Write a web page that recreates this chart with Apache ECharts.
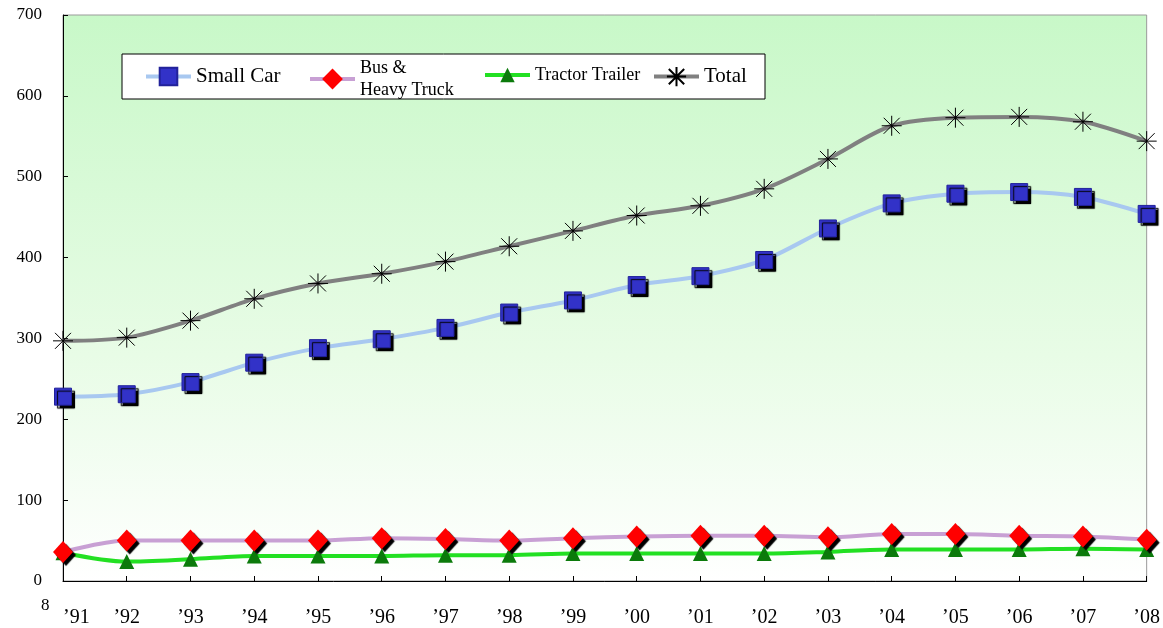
<!DOCTYPE html>
<html>
<head>
<meta charset="utf-8">
<script src="https://cdn.jsdelivr.net/npm/echarts@6/dist/echarts.min.js"></script>
<style>html,body{margin:0;padding:0;background:#fff;}#c{width:1163px;height:628px;}</style>
</head>
<body>
<div id="c"></div>
<script>
const years = ["’91","’92","’93","’94","’95","’96","’97","’98","’99","’00","’01","’02","’03","’04","’05","’06","’07","’08"];
const smallCar = [228, 231, 246, 270, 288, 299, 313, 332, 347, 366, 377, 397, 436, 467, 479, 481, 475, 454];
const busTruck = [36, 50, 50, 50, 50, 53, 52, 50, 53, 55, 56, 56, 54, 58, 58, 56, 55, 51];
const tractor = [35, 24, 27, 31, 31, 31, 32, 32, 34, 34, 34, 34, 36, 39, 39, 39, 40, 39];
const total = [297, 301, 322, 349, 368, 380, 395, 414, 433, 452, 464, 485, 522, 563, 573, 574, 568, 544];
const yTicks = [0, 100, 200, 300, 400, 500, 600, 700];

const serif = "'Liberation Serif', 'Times New Roman', serif";
const starPath = 'path://M10,0L10,20M0,10L20,10M2,2L18,18M18,2L2,18';
const shadow = {shadowColor: 'rgba(0,0,0,1)', shadowBlur: 1, shadowOffsetX: 3, shadowOffsetY: 3};

const chart = echarts.init(document.getElementById('c'), null, {renderer: 'canvas'});
function leg(name, left, top, fontSize, itemHeight, extra) {
  return Object.assign({
    data: [name], left: left, top: top, padding: 0, itemWidth: 45, itemHeight: itemHeight,
    selectedMode: false,
    lineStyle: {width: 4},
    textStyle: {fontFamily: serif, fontSize: fontSize, color: '#000'}
  }, extra || {});
}
chart.setOption({
  animation: false,
  backgroundColor: '#fff',
  grid: {
    left: 63, right: 12, top: 15, bottom: 46, show: true,
    borderColor: '#9a9a9a', borderWidth: 1,
    backgroundColor: {type: 'linear', x: 0, y: 0, x2: 0, y2: 1,
      colorStops: [{offset: 0, color: '#c8f8c8'}, {offset: 0.6, color: '#e8fce6'}, {offset: 1, color: '#ffffff'}]}
  },
  graphic: [
    {type: 'rect', shape: {x: 122, y: 54, width: 643, height: 45}, style: {fill: '#fff', stroke: '#000', lineWidth: 1}, z: 1},
    {type: 'text', left: 41, top: 597, style: {text: '8', font: '17px ' + serif, fill: '#000'}}
  ],
  legend: [
    leg('Small Car', 144, 66, 21, 22),
    leg('Bus & Heavy Truck', 308, 57, 18, 26, {formatter: function(){return 'Bus &\nHeavy Truck';}, textStyle: {fontFamily: serif, fontSize: 18, color: '#000', lineHeight: 22}}),
    leg('Tractor Trailer', 483, 66, 18, 18),
    leg('Total', 652, 66, 21, 24)
  ],
  xAxis: {
    type: 'category', data: years, boundaryGap: false,
    axisLine: {lineStyle: {color: '#000', width: 1}},
    axisTick: {inside: true, length: 5, lineStyle: {color: '#000'}},
    axisLabel: {fontFamily: serif, fontSize: 20, color: '#000', margin: 27, alignMinLabel: 'left'}
  },
  yAxis: {
    type: 'value', min: 0, max: 700, interval: 100,
    axisLine: {show: true, lineStyle: {color: '#000', width: 1}},
    axisTick: {show: true, inside: true, length: 5, lineStyle: {color: '#000'}},
    splitLine: {show: false},
    axisLabel: {fontFamily: serif, fontSize: 17, color: '#000', margin: 21,
      formatter: function(v){ return yTicks.indexOf(v) >= 0 ? String(v) : ''; }}
  },
  series: [
    {name: 'Small Car', type: 'line', data: smallCar, smooth: 0.3, symbol: 'rect', symbolSize: 17,
      lineStyle: {color: '#a8c8f0', width: 4},
      itemStyle: Object.assign({color: '#3232c8', borderColor: '#22229a', borderWidth: 1}, shadow), z: 3},
    {name: 'Bus & Heavy Truck', type: 'line', data: busTruck, smooth: 0.3, symbol: 'diamond', symbolSize: [20, 22],
      lineStyle: {color: '#c8a0d4', width: 4},
      itemStyle: Object.assign({color: '#ff0000'}, shadow), z: 4},
    {name: 'Tractor Trailer', type: 'line', data: tractor, smooth: 0.3, symbol: 'triangle', symbolSize: [15, 15],
      lineStyle: {color: '#22e022', width: 4},
      itemStyle: {color: '#0b7a0b'}, z: 3},
    {name: 'Total', type: 'line', data: total, smooth: 0.3, symbol: starPath, symbolSize: 20,
      lineStyle: {color: '#808080', width: 4},
      itemStyle: {color: 'rgba(0,0,0,0)', borderColor: '#000', borderWidth: 1}, z: 3}
  ]
});
</script>
</body>
</html>
